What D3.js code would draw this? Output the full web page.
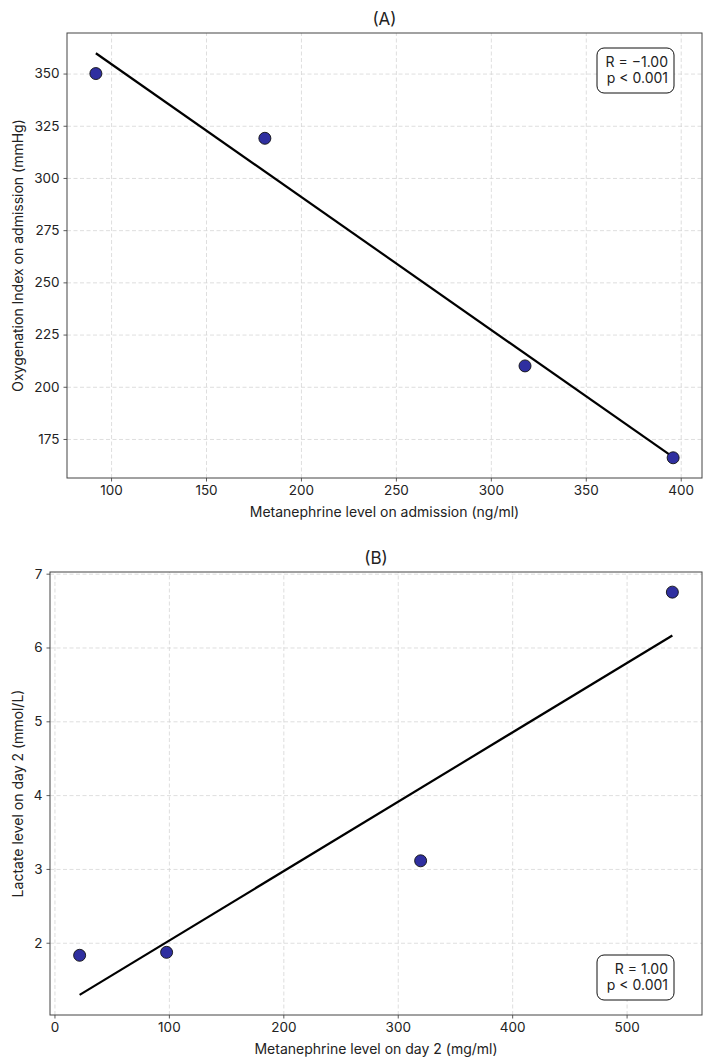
<!DOCTYPE html>
<html>
<head>
<meta charset="utf-8">
<script src="https://cdn.jsdelivr.net/npm/d3@7"></script>
<style>
  body { margin: 0; background: #fff; }
  svg text { font-family: Inter, "DejaVu Sans", sans-serif; fill: #222; }
</style>
</head>
<body>
<div id="chart"></div>
<script>
const width = 712;
const height = 1064;

// panel A
const metanephrineAdmission = [92, 181, 318, 396];
const oxygenationIndex = [350, 319, 210, 166];
const ticksAX = [100, 150, 200, 250, 300, 350, 400];
const ticksAY = [175, 200, 225, 250, 275, 300, 325, 350];

// panel B
const metanephrineDay2 = [22, 98, 320, 540];
const lactateDay2 = [1.83, 1.87, 3.11, 6.75];
const ticksBX = [0, 100, 200, 300, 400, 500];
const ticksBY = [2, 3, 4, 5, 6, 7];

const panels = [
  {
    title: "(A)", xs: metanephrineAdmission, ys: oxygenationIndex,
    xTicks: ticksAX, yTicks: ticksAY,
    xLabel: "Metanephrine level on admission (ng/ml)",
    yLabel: "Oxygenation Index on admission (mmHg)",
    stats: ["R = \u22121.00", "p < 0.001"], statsPos: "top",
    box: { left: 67, right: 702, top: 33, bottom: 478 }
  },
  {
    title: "(B)", xs: metanephrineDay2, ys: lactateDay2,
    xTicks: ticksBX, yTicks: ticksBY,
    xLabel: "Metanephrine level on day 2 (mg/ml)",
    yLabel: "Lactate level on day 2 (mmol/L)",
    stats: ["R = 1.00", "p < 0.001"], statsPos: "bottom",
    box: { left: 50, right: 702, top: 572, bottom: 1015 }
  }
];

const svg = d3.select("#chart").append("svg")
  .attr("width", width)
  .attr("height", height);

// least squares fit
function fit(xs, ys) {
  const mx = d3.mean(xs), my = d3.mean(ys);
  const sxy = d3.sum(xs, (x, i) => (x - mx) * (ys[i] - my));
  const sxx = d3.sum(xs, (x) => (x - mx) ** 2);
  const slope = sxy / sxx;
  return { slope, intercept: my - slope * mx };
}

// matplotlib style 5% margins
function padded(vals) {
  const [lo, hi] = d3.extent(vals);
  const m = (hi - lo) * 0.05;
  return [lo - m, hi + m];
}

panels.forEach((p) => {
  const b = p.box;
  const f = fit(p.xs, p.ys);
  const x0 = d3.min(p.xs), x1 = d3.max(p.xs);
  const line = [[x0, f.intercept + f.slope * x0], [x1, f.intercept + f.slope * x1]];

  const x = d3.scaleLinear()
    .domain(padded(p.xs))
    .range([b.left, b.right]);
  const y = d3.scaleLinear()
    .domain(padded(p.ys.concat(line.map((d) => d[1]))))
    .range([b.bottom, b.top]);

  const g = svg.append("g");

  // grid
  g.append("g")
    .attr("transform", `translate(0, ${b.bottom})`)
    .call(d3.axisBottom(x).tickValues(p.xTicks).tickSize(-(b.bottom - b.top)).tickFormat(""))
    .call((s) => s.select(".domain").remove())
    .selectAll("line")
    .attr("stroke", "#d6d6d6")
    .attr("stroke-width", 0.8)
    .attr("stroke-dasharray", "4,2.5");
  g.append("g")
    .attr("transform", `translate(${b.left}, 0)`)
    .call(d3.axisLeft(y).tickValues(p.yTicks).tickSize(-(b.right - b.left)).tickFormat(""))
    .call((s) => s.select(".domain").remove())
    .selectAll("line")
    .attr("stroke", "#d6d6d6")
    .attr("stroke-width", 0.8)
    .attr("stroke-dasharray", "4,2.5");

  // axes
  const xAxis = g.append("g")
    .attr("transform", `translate(0, ${b.bottom})`)
    .call(d3.axisBottom(x).tickValues(p.xTicks).tickSize(3.5).tickPadding(4).tickFormat(d3.format("d")));
  const yAxis = g.append("g")
    .attr("transform", `translate(${b.left}, 0)`)
    .call(d3.axisLeft(y).tickValues(p.yTicks).tickSize(3.5).tickPadding(4).tickFormat(d3.format("d")));
  [xAxis, yAxis].forEach((a) => {
    a.select(".domain").remove();
    a.selectAll("line").attr("stroke", "#333").attr("stroke-width", 0.8);
    a.selectAll("text").attr("font-size", 13.5).style("fill", "#222");
  });

  // frame
  g.append("rect")
    .attr("x", b.left)
    .attr("y", b.top)
    .attr("width", b.right - b.left)
    .attr("height", b.bottom - b.top)
    .attr("fill", "none")
    .attr("stroke", "#444")
    .attr("stroke-width", 1);

  // regression line
  g.append("path")
    .datum(line)
    .attr("d", d3.line().x((d) => x(d[0])).y((d) => y(d[1])))
    .attr("stroke", "#000")
    .attr("stroke-width", 2.2)
    .attr("fill", "none");

  // points
  g.selectAll("circle")
    .data(p.xs.map((v, i) => [v, p.ys[i]]))
    .enter()
    .append("circle")
    .attr("cx", (d) => x(d[0]))
    .attr("cy", (d) => y(d[1]))
    .attr("r", 6)
    .attr("fill", "#2f2fa0")
    .attr("stroke", "#111")
    .attr("stroke-width", 0.9);

  // title and labels
  svg.append("text")
    .attr("x", (b.left + b.right) / 2)
    .attr("y", b.top - 8)
    .attr("text-anchor", "middle")
    .attr("font-size", 17)
    .text(p.title);
  svg.append("text")
    .attr("x", (b.left + b.right) / 2)
    .attr("y", b.bottom + 39)
    .attr("text-anchor", "middle")
    .attr("font-size", 14)
    .text(p.xLabel);
  svg.append("text")
    .attr("transform", `translate(23, ${(b.top + b.bottom) / 2}) rotate(-90)`)
    .attr("text-anchor", "middle")
    .attr("font-size", 14)
    .text(p.yLabel);

  // stats box
  const boxW = 77, boxH = 45;
  const bx = b.right - 105;
  const by = p.statsPos === "top" ? b.top + 15 : b.bottom - 60;
  g.append("rect")
    .attr("x", bx)
    .attr("y", by)
    .attr("width", boxW)
    .attr("height", boxH)
    .attr("rx", 7)
    .attr("fill", "#fff")
    .attr("stroke", "#111")
    .attr("stroke-width", 1);
  p.stats.forEach((t, i) => {
    g.append("text")
      .attr("x", bx + boxW - 6)
      .attr("y", by + 19 + i * 16)
      .attr("text-anchor", "end")
      .attr("font-size", 14)
      .text(t);
  });
});
</script>
</body>
</html>
